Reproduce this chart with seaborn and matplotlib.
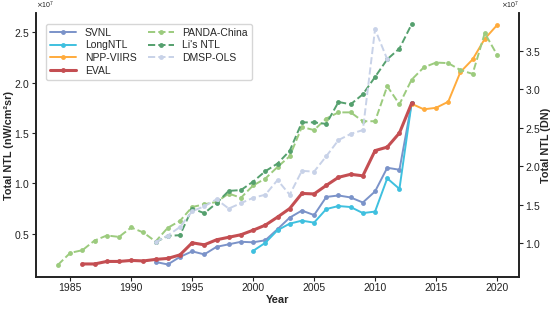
import numpy as np
import pandas as pd
import matplotlib
matplotlib.use("Agg")
import matplotlib.pyplot as plt
import seaborn as sns

# radiance-based series (left axis), values in 1e7 nW/cm2sr
svnl_years = list(range(1992, 2014))
svnl_vals = [0.22, 0.195, 0.27, 0.325, 0.295, 0.37, 0.395, 0.42, 0.415, 0.435, 0.545,
             0.66, 0.73, 0.685, 0.865, 0.88, 0.86, 0.81, 0.92, 1.155, 1.135, 1.795]

longntl_years = list(range(2000, 2014))
longntl_vals = [0.33, 0.41, 0.535, 0.60, 0.63, 0.61, 0.745, 0.775, 0.765, 0.705,
                0.72, 1.05, 0.945, 1.795]

viirs_years = list(range(2013, 2021))
viirs_vals = [1.79, 1.735, 1.75, 1.81, 2.105, 2.23, 2.435, 2.57]

eval_years = list(range(1986, 2014))
eval_vals = [0.20, 0.20, 0.225, 0.225, 0.235, 0.23, 0.245, 0.255, 0.29, 0.41, 0.39,
             0.44, 0.465, 0.49, 0.535, 0.585, 0.665, 0.75, 0.90, 0.895, 0.98, 1.06,
             1.09, 1.075, 1.325, 1.36, 1.50, 1.795]

# DN-based series (right axis), values in 1e7 DN
panda_years = list(range(1984, 2021))
panda_vals = [0.72, 0.874, 0.909, 1.035, 1.10, 1.082, 1.204, 1.139, 1.022, 1.20, 1.29,
              1.47, 1.506, 1.536, 1.645, 1.59, 1.75, 1.84, 1.99, 2.13, 2.51, 2.47,
              2.62, 2.70, 2.70, 2.585, 2.585, 3.04, 2.805, 3.125, 3.285, 3.347, 3.34,
              3.25, 3.20, 3.73, 3.45]

li_years = list(range(1992, 2014))
li_vals = [1.013, 1.095, 1.104, 1.45, 1.39, 1.52, 1.68, 1.69, 1.80, 1.935, 2.035,
           2.20, 2.57, 2.57, 2.55, 2.835, 2.805, 2.935, 3.16, 3.39, 3.53, 3.845]

dmsp_years = list(range(1992, 2012))
dmsp_vals = [1.013, 1.10, 1.21, 1.415, 1.48, 1.57, 1.45, 1.52, 1.59, 1.63, 1.82,
             1.63, 1.94, 1.93, 2.13, 2.34, 2.42, 2.47, 3.78, 3.39]

sns.set_theme(style="ticks")
plt.rcParams['font.family'] = ['Liberation Sans', 'DejaVu Sans']
plt.rcParams['axes.unicode_minus'] = False

fig = plt.figure(figsize=(5.55, 3.12), dpi=100)
ax = fig.add_axes([0.065, 0.112, 0.870, 0.846])
ax2 = ax.twinx()

left_series = [
    ("SVNL", svnl_years, svnl_vals, "#7b93c9", 1.4),
    ("LongNTL", longntl_years, longntl_vals, "#3fc0df", 1.4),
    ("NPP-VIIRS", viirs_years, viirs_vals, "#ffab3c", 1.4),
    ("EVAL", eval_years, eval_vals, "#c44e52", 2.2),
]
right_series = [
    ("PANDA-China", panda_years, panda_vals, "#9ccb7e"),
    ("Li's NTL", li_years, li_vals, "#55a06e"),
    ("DMSP-OLS", dmsp_years, dmsp_vals, "#c8d2e8"),
]

for name, yrs, vals, col, lw in left_series:
    df = pd.DataFrame({"year": yrs, "v": np.array(vals) * 1e7})
    sns.lineplot(data=df, x="year", y="v", ax=ax, color=col, linewidth=lw,
                 marker="o", markersize=3.5, markeredgewidth=0, label=name, legend=False)

for name, yrs, vals, col in right_series:
    df = pd.DataFrame({"year": yrs, "v": np.array(vals) * 1e7})
    sns.lineplot(data=df, x="year", y="v", ax=ax2, color=col, linewidth=1.4,
                 linestyle="--", marker="o", markersize=3.5, markeredgewidth=0,
                 label=name, legend=False)

ax.set_xlim(1982.2, 2021.8)
ax.set_ylim(0.07e7, 2.69e7)
ax2.set_ylim(0.56e7, 3.99e7)
ax.set_xticks([1985, 1990, 1995, 2000, 2005, 2010, 2015, 2020])
ax.set_yticks([0.5e7, 1.0e7, 1.5e7, 2.0e7, 2.5e7])
ax2.set_yticks([1.0e7, 1.5e7, 2.0e7, 2.5e7, 3.0e7, 3.5e7])

for a in (ax, ax2):
    a.ticklabel_format(axis="y", style="sci", scilimits=(7, 7), useMathText=True)
    a.yaxis.get_offset_text().set_fontsize(5)
    a.yaxis.get_offset_text().set_color("#555555")
    a.tick_params(labelsize=7.5, width=0.8, length=3, pad=1.5, colors="#222222")
    a.spines["top"].set_visible(False)
    for s in a.spines.values():
        s.set_linewidth(1.2)
        s.set_color("#222222")
ax2.spines["right"].set_visible(True)

ax.set_xlabel("Year", fontsize=8, fontweight="bold", labelpad=1)
ax.set_ylabel("Total NTL (nW/cm²sr)", fontsize=7.8, fontweight="bold")
ax2.set_ylabel("Total NTL (DN)", fontsize=7.8, fontweight="bold")
ax.yaxis.set_label_coords(-0.045, 0.5)
ax2.yaxis.set_label_coords(1.046, 0.5)

h1, l1 = ax.get_legend_handles_labels()
h2, l2 = ax2.get_legend_handles_labels()
ax2.legend(h1 + h2, l1 + l2, ncol=2, loc="upper left", bbox_to_anchor=(0.01, 0.98),
           fontsize=7.5, frameon=True, handlelength=2.5, handletextpad=0.8,
           columnspacing=1.1, labelspacing=0.25, borderpad=0.4)

fig.savefig("out.png", dpi=100)
